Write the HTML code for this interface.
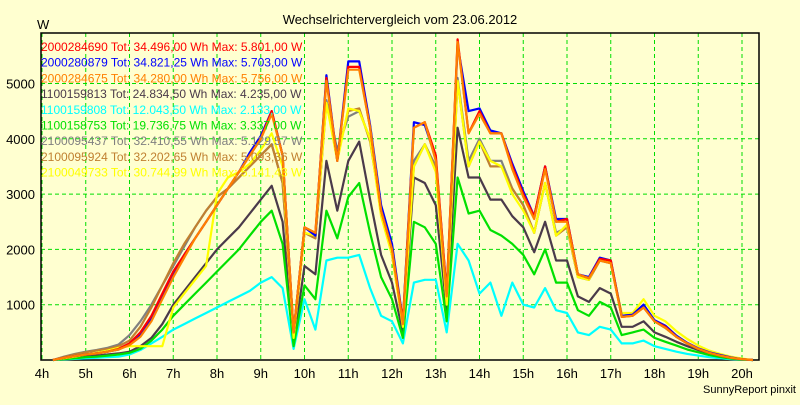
<!DOCTYPE html>
<html><head><meta charset="utf-8">
<style>
body{margin:0;background:#ffffd0;}
#wrap{position:relative;width:800px;height:400px;background:#ffffd0;font-family:"Liberation Sans",sans-serif;}
</style></head>
<body>
<div id="wrap">
<svg id="chart" width="800" height="400"></svg>
</div>
<script>
const times=[4.25,4.5,4.75,5,5.25,5.5,5.75,6,6.25,6.5,6.75,7,7.25,7.5,7.75,8,8.25,8.5,8.75,9,9.25,9.5,9.75,10,10.25,10.5,10.75,11,11.25,11.5,11.75,12,12.25,12.5,12.75,13,13.25,13.5,13.75,14,14.25,14.5,14.75,15,15.25,15.5,15.75,16,16.25,16.5,16.75,17,17.25,17.5,17.75,18,18.25,18.5,18.75,19,19.25,19.5,19.75,20,20.25];
const red=[0,40,70,100,120,150,200,300,500,800,1200,1600,1900,2200,2500,2800,3100,3400,3700,4000,4500,3700,500,2400,2300,5100,3600,5300,5300,4200,2700,2000,700,4200,4300,3700,1200,5800,4100,4500,4100,4100,3500,3000,2600,3500,2500,2550,1550,1480,1830,1800,780,800,950,700,600,420,300,200,130,80,40,15,0];
const blue=[0,40,70,100,120,150,190,280,450,750,1150,1550,1900,2200,2500,2800,3100,3400,3750,4050,4500,3700,500,2400,2250,5150,3600,5400,5400,4250,2800,2100,700,4300,4250,3650,1200,5700,4500,4550,4150,4100,3550,3050,2600,3500,2550,2550,1550,1500,1850,1800,800,820,1000,720,620,440,310,210,140,90,45,15,0];
const orange=[0,40,70,100,120,150,190,270,420,700,1100,1500,1850,2200,2500,2800,3100,3400,3700,4000,4450,3700,500,2400,2300,5050,3600,5250,5250,4200,2700,2000,650,4200,4300,3600,1150,5750,4100,4450,4100,4100,3450,2950,2550,3450,2500,2500,1550,1480,1800,1750,780,800,950,700,580,420,300,200,130,80,40,15,0];
const darkgray=[0,20,40,60,80,100,120,150,250,400,650,1000,1250,1500,1750,2000,2200,2400,2650,2900,3150,2500,300,1700,1550,3600,2700,3600,3950,2900,1900,1400,500,3300,3200,2800,900,4200,3300,3300,2900,2900,2600,2400,1950,2500,1800,1800,1150,1050,1300,1200,600,600,700,500,420,330,250,180,120,70,35,10,0];
const cyan=[0,10,20,30,40,50,60,100,180,300,420,550,650,750,850,950,1050,1150,1250,1400,1500,1300,200,1100,550,1800,1850,1850,1900,1300,800,700,300,1400,1450,1450,500,2100,1800,1200,1400,800,1400,1000,950,1300,900,850,500,450,600,550,300,300,350,250,200,150,110,80,50,30,15,5,0];
const green=[0,15,30,50,60,80,100,130,200,350,550,800,1000,1200,1400,1600,1800,2000,2250,2500,2700,2100,250,1350,1100,2700,2200,2950,3200,2300,1500,1100,400,2500,2400,2100,700,3300,2650,2700,2350,2250,2100,1900,1550,2000,1400,1400,900,800,1050,950,450,500,550,400,330,260,190,140,90,55,25,8,0];
const gray=[0,60,110,150,180,220,280,450,700,1000,1350,1700,2050,2400,2700,2950,3100,3300,3500,3700,3900,3200,450,2300,2200,4700,3800,4400,4500,4000,2700,1900,650,3600,3900,3500,1100,5100,3600,4000,3600,3600,3100,2800,2300,3200,2300,2400,1500,1450,1800,1750,800,820,1000,700,580,420,300,200,130,80,40,15,0];
const brown=[0,50,100,140,170,200,250,350,600,950,1350,1750,2100,2400,2700,2950,3100,3300,3500,3700,3900,3200,450,2300,2200,4650,3700,4500,4550,3950,2700,1900,650,3500,3900,3450,1100,5050,3500,3950,3500,3500,3100,2800,2300,3200,2250,2400,1500,1450,1800,1750,800,820,1000,700,580,420,300,200,130,80,40,15,0];
const yellow=[0,30,60,100,130,170,220,250,250,250,250,950,1200,1450,1700,3000,3300,3400,3550,3800,4100,3500,400,2300,2250,4650,3600,4550,4500,4000,2600,1900,600,3500,3900,3400,1000,5050,3500,3950,3600,3500,3000,2700,2300,3200,2250,2450,1500,1450,1850,1750,850,850,1100,800,700,520,380,260,170,110,60,25,0];
const seriesNames=["2000284690 Tot: 34.496,00 Wh Max: 5.801,00 W","2000280879 Tot: 34.821,25 Wh Max: 5.703,00 W","2000284675 Tot: 34.280,00 Wh Max: 5.756,00 W","1100159813 Tot: 24.834,50 Wh Max: 4.235,00 W","1100159808 Tot: 12.043,50 Wh Max: 2.133,00 W","1100158753 Tot: 19.736,75 Wh Max: 3.337,00 W","2100095437 Tot: 32.410,55 Wh Max: 5.129,57 W","2100095924 Tot: 32.202,65 Wh Max: 5.093,36 W","2100049733 Tot: 30.744,99 Wh Max: 5.141,43 W"];
const seriesColors=["#ff0000","#0000ff","#ff8000","#4a3a4a","#00ffff","#00e000","#808080","#c08030","#ffff00"];
const xTicks=[4,5,6,7,8,9,10,11,12,13,14,15,16,17,18,19,20];
const yTicks=[1000,2000,3000,4000,5000];

const svg=document.getElementById('chart');
const NS='http://www.w3.org/2000/svg';
const L=41,R=759,T=33,B=360;
function x(t){return 42+(t-4)*43.75;}
function y(v){return 360-v*0.0553;}
function mk(tag,attrs,parent){const e=document.createElementNS(NS,tag);for(const k in attrs)e.setAttribute(k,attrs[k]);(parent||svg).appendChild(e);return e;}

const title=mk('text',{x:400,y:24,'text-anchor':'middle','font-size':13,fill:'#000'});
title.textContent='Wechselrichtervergleich vom 23.06.2012';


const yu=mk('text',{x:37,y:29,'font-size':13,fill:'#000'});
yu.textContent='W';



xTicks.forEach(t=>{
  const g=mk('line',{x1:x(t),x2:x(t),y1:T,y2:B,stroke:'#00dd00','stroke-dasharray':'4,3','stroke-width':1});
  
  
  const lb=mk('text',{x:x(t),y:378,'text-anchor':'middle','font-size':13,fill:'#000'});
  lb.textContent=t+'h';
  
  
});
yTicks.forEach(v=>{
  const g=mk('line',{x1:L,x2:R,y1:y(v),y2:y(v),stroke:'#00dd00','stroke-dasharray':'4,3','stroke-width':1});
  
  
  const lb=mk('text',{x:35,y:y(v)+5,'text-anchor':'end','font-size':13,fill:'#000'});
  lb.textContent=v;
  
  
});
const frame=mk('rect',{x:L,y:T,width:R-L,height:B-T,fill:'none',stroke:'#000','stroke-width':1.5});



const allSeries=[red,blue,orange,darkgray,cyan,green,gray,brown,yellow];
const drawOrder=[3,4,5,6,7,8,1,0,2];
drawOrder.forEach(i=>{
  const d=allSeries[i].map((v,j)=>(j?'L':'M')+x(times[j]).toFixed(1)+','+y(v).toFixed(1)).join(' ');
  const p=mk('path',{d:d,fill:'none',stroke:seriesColors[i],'stroke-width':2.2,'stroke-linejoin':'round'});
  
  
});
seriesNames.forEach((n,i)=>{
  const lb=mk('text',{x:41,y:51+i*15.7,'font-size':12,fill:seriesColors[i]});
  lb.textContent=n;
  
  
});
const cr=mk('text',{x:796,y:393,'text-anchor':'end','font-size':11,fill:'#000'});
cr.textContent='SunnyReport pinxit';


</script>
</body></html>
